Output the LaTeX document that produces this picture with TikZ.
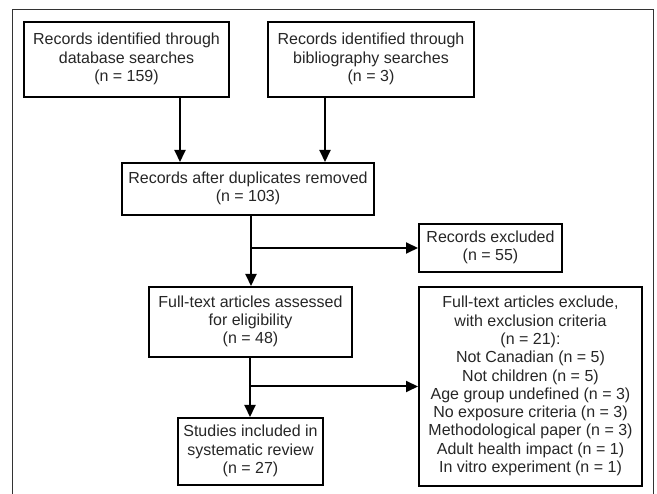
\documentclass[tikz,border=0pt]{standalone}
\usepackage{fontspec}
\setmainfont{Liberation Sans}
\usetikzlibrary{arrows.meta}
\newcommand{\mylines}[1]{\begin{tabular}{@{}c@{}}#1\end{tabular}}
\begin{document}
\begin{tikzpicture}[x=1pt,y=-1pt,
  box/.style={draw, line width=2pt, inner sep=0pt,
    font=\fontsize{16}{18.3}\selectfont, text=black!85},
  arr/.style={line width=2pt, -{Triangle[length=12pt,width=11pt]}}]
\useasboundingbox (0,0) rectangle (657,494);
\draw[line width=1pt, black!80] (12,500) -- (12,10) -- (653,10) -- (653,500);
\node[box, minimum width=205pt, minimum height=75pt] (db) at (126.5,59.5) {\mylines{Records identified through\\database searches\\(n = 159)}};
\node[box, minimum width=206pt, minimum height=75pt] (bib) at (371,59.5) {\mylines{Records identified through\\bibliography searches\\(n = 3)}};
\node[box, minimum width=252pt, minimum height=52pt] (dup) at (248,189) {\mylines{Records after duplicates removed\\(n = 103)}};
\node[box, minimum width=203pt, minimum height=70pt] (full) at (250.5,322) {\mylines{Full-text articles assessed\\for eligibility\\(n = 48)}};
\node[box, minimum width=143pt, minimum height=48pt] (exc) at (490.5,248) {\mylines{Records excluded\\(n = 55)}};
\node[box, minimum width=145pt, minimum height=67pt] (inc) at (250.5,451.5) {\mylines{Studies included in\\systematic review\\(n = 27)}};
\node[box, minimum width=223pt, minimum height=199pt] (crit) at (530.5,386.5) {\mylines{Full-text articles exclude,\\with exclusion criteria\\(n = 21):\\Not Canadian (n = 5)\\Not children (n = 5)\\Age group undefined (n = 3)\\No exposure criteria (n = 3)\\Methodological paper (n = 3)\\Adult health impact (n = 1)\\In vitro experiment (n = 1)}};
\coordinate (a1) at (180,0);
\coordinate (a2) at (325,0);
\coordinate (a3) at (251,0);
\coordinate (a4) at (250,0);
\draw[arr] (db.south -| a1) -- (dup.north -| a1);
\draw[arr] (bib.south -| a2) -- (dup.north -| a2);
\draw[arr] (dup.south -| a3) -- (full.north -| a3);
\coordinate (b1) at (exc.west -| a3);
\draw[arr] (b1) -- (exc.west);
\draw[arr] (full.south -| a4) -- (inc.north -| a4);
\coordinate (b2) at (crit.west -| a4);
\draw[arr] (b2) -- (crit.west);
\end{tikzpicture}
\end{document}
